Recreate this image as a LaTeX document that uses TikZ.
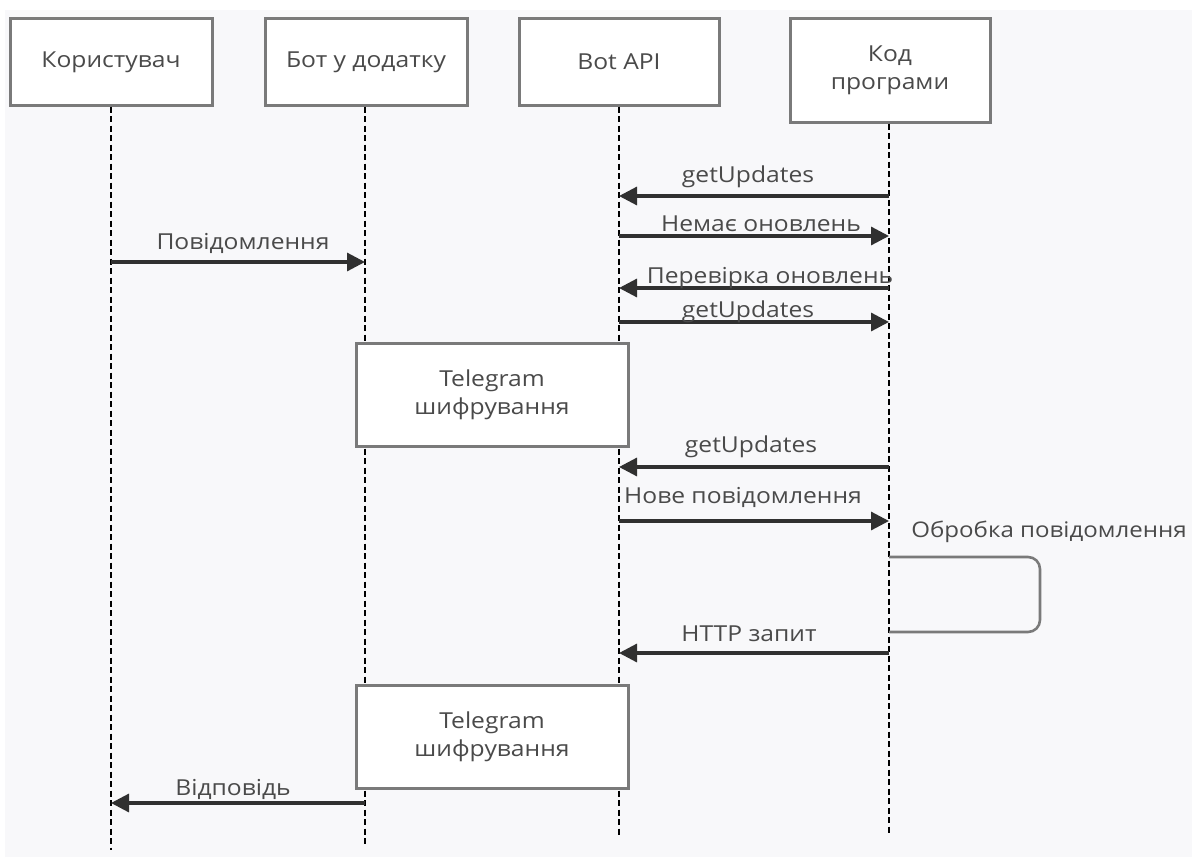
\documentclass[tikz,border=0pt]{standalone}
\usepackage{fontspec}
\setmainfont{Open Sans}[FakeStretch=1.12]
\usetikzlibrary{arrows.meta}
\definecolor{bg}{HTML}{F8F8FA}
\definecolor{boxline}{HTML}{7A7A7A}
\definecolor{txt}{HTML}{4A4A4A}
\definecolor{arr}{HTML}{303030}
\tikzset{
  actor/.style={draw=boxline, line width=3pt, fill=white, inner sep=0pt, text=txt, font=\fontsize{22}{28}\selectfont, align=center},
  lifeline/.style={draw=black, line width=2.9pt, dash pattern=on 6pt off 3.5pt},
  msg/.style={draw=arr, line width=3.2pt, -{Triangle[length=18pt,width=18pt]}},
  lbl/.style={text=txt, font=\fontsize{22}{28}\selectfont, inner sep=0pt, anchor=base},
  loopline/.style={draw=boxline, line width=2.6pt, rounded corners=12pt}
}
\begin{document}
\begin{tikzpicture}[x=1pt,y=-1pt]
\useasboundingbox (0,0) rectangle (1192,859);
\fill[white] (0,0) rectangle (1192,859);
\fill[bg] (5,10) rectangle (1192,857);
% actors
\node[actor, minimum width=202pt, minimum height=86pt] (user) at (111,62) {Користувач};
\node[actor, minimum width=202pt, minimum height=86pt] (bot) at (366,62) {Бот у додатку};
\node[actor, minimum width=200pt, minimum height=86pt] (api) at (619,62) {Bot API};
\node[actor, minimum width=200pt, minimum height=103pt] (kod) at (890,70.5) {Код\\програми};
% lifeline ends
\coordinate (userE) at (111,850);
\coordinate (botE) at (365,847);
\coordinate (apiE) at (619,838);
\coordinate (kodE) at (889,835);
\draw[lifeline] (user.south -| userE) -- (userE);
\draw[lifeline] (bot.south -| botE) -- (botE);
\draw[lifeline] (api.south -| apiE) -- (apiE);
\draw[lifeline] (kod.south -| kodE) -- (kodE);
% encryption boxes
\node[actor, minimum width=272pt, minimum height=103pt] (enc1) at (492,394.5) {Telegram\\шифрування};
\node[actor, minimum width=272pt, minimum height=103pt] (enc2) at (492,736.5) {Telegram\\шифрування};
% messages
\draw[msg] (kodE |- 0,196) -- (apiE |- 0,196);
\node[lbl] (m1) at (748,182) {getUpdates};
\draw[msg] (apiE |- 0,236) -- (kodE |- 0,236);
\node[lbl] (m2) at (761,231) {Немає оновлень};
\draw[msg] (userE |- 0,262) -- (botE |- 0,262);
\node[lbl] (m3) at (243,249) {Повідомлення};
\draw[msg] (kodE |- 0,288) -- (apiE |- 0,288);
\node[lbl] (m4) at (770,283) {Перевірка оновлень};
\draw[msg] (apiE |- 0,322) -- (kodE |- 0,322);
\node[lbl] (m5) at (748,317) {getUpdates};
\draw[msg] (kodE |- 0,467) -- (apiE |- 0,467);
\node[lbl] (m6) at (751,452) {getUpdates};
\draw[msg] (apiE |- 0,521) -- (kodE |- 0,521);
\node[lbl] (m7) at (743,503) {Нове повідомлення};
\node[lbl, font=\fontsize{21.5}{28}\selectfont] (m8) at (1049,537) {Обробка повідомлення};
\draw[loopline] (kodE |- 0,557) -- (1040,557) -- (1040,632) -- (kodE |- 0,632);
\draw[msg] (kodE |- 0,653) -- (apiE |- 0,653);
\node[lbl] (m9) at (749,641) {HTTP запит};
\draw[msg] (botE |- 0,803) -- (userE |- 0,803);
\node[lbl] (m10) at (233,795) {Відповідь};
\end{tikzpicture}
\end{document}
